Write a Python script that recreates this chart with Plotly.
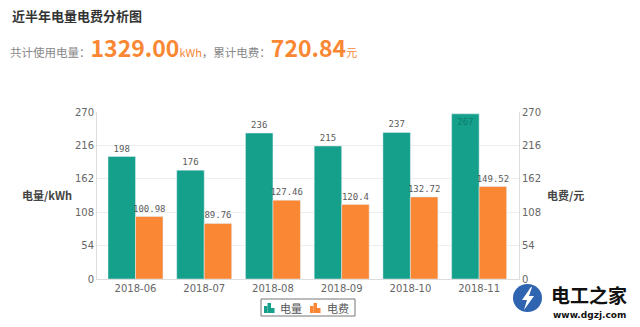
import plotly.graph_objects as go

months = ["2018-06", "2018-07", "2018-08", "2018-09", "2018-10", "2018-11"]
usage_kwh = [198, 176, 236, 215, 237, 267]
cost_yuan = [100.98, 89.76, 127.46, 120.4, 132.72, 149.52]
tick_vals = [0, 54, 108, 162, 216, 270]
series_names = ["电量", "电费"]

TEAL = "#14a08b"
ORANGE = "#f98733"
FONT = "Noto Sans CJK SC"
LABEL_FONT = "DejaVu Sans Mono"

W, H = 640, 327
PL, PR, PT, PB = 97, 519, 112, 279  # plot area in pixels

total_kwh = sum(usage_kwh)
total_cost = sum(cost_yuan)


def px(x):
    return (x - PL) / (PR - PL)


def py(y):
    return (PB - y) / (PB - PT)


# the tallest bar keeps its label inside the top of the bar
usage_pos = ["inside" if v >= 260 else "outside" for v in usage_kwh]

fig = go.Figure()
fig.add_trace(go.Bar(
    x=months, y=usage_kwh, name=series_names[0], marker_color=TEAL,
    offsetgroup="usage",
    text=[str(v) for v in usage_kwh], textposition=usage_pos,
    insidetextanchor="end", constraintext="none",
    insidetextfont=dict(color="#0c7d6c", size=9, family=LABEL_FONT),
    outsidetextfont=dict(color="#5a5a5a", size=9, family=LABEL_FONT),
    cliponaxis=False, yaxis="y",
))
fig.add_trace(go.Bar(
    x=months, y=cost_yuan, name=series_names[1], marker_color=ORANGE,
    offsetgroup="cost",
    text=[f"{v:g}" for v in cost_yuan], textposition="outside",
    constraintext="none",
    outsidetextfont=dict(color="#5a5a5a", size=9, family=LABEL_FONT),
    cliponaxis=False, yaxis="y2",
))

axis_common = dict(
    range=[0, 270], tickvals=tick_vals, showgrid=True, gridcolor="#eeeeee",
    tickfont=dict(color="#666", size=10, family="DejaVu Sans"),
    zeroline=False, showline=True, linecolor="#dddddd", ticks="",
)

fig.update_layout(
    width=W, height=H,
    margin=dict(l=PL, r=W - PR, t=PT, b=H - PB, autoexpand=False),
    paper_bgcolor="white", plot_bgcolor="white",
    barmode="group", bargap=0.2, bargroupgap=0,
    font=dict(family=FONT, color="#666"),
    xaxis=dict(type="category", range=[-0.56, 5.58], showline=True,
               linecolor="#dddddd", ticks="", showgrid=False,
               tickfont=dict(color="#666", size=10, family="DejaVu Sans")),
    yaxis=dict(**axis_common),
    yaxis2=dict(**axis_common, overlaying="y", side="right"),
    showlegend=False,
)

# legend box with small bar-chart icons
fig.add_shape(type="rect", xref="paper", yref="paper",
              x0=px(261), x1=px(355), y0=py(316), y1=py(299),
              line=dict(color="#777", width=1), fillcolor="white")
for (ix, name, color, tx) in [(264, series_names[0], TEAL, 291),
                              (310, series_names[1], ORANGE, 338)]:
    for dx, top in [(0, 306), (3.5, 303), (7, 308)]:
        fig.add_shape(type="rect", xref="paper", yref="paper",
                      x0=px(ix + dx), x1=px(ix + dx + 3.5),
                      y0=py(313), y1=py(top),
                      line=dict(width=0), fillcolor=color)
    fig.add_annotation(text=name, xref="paper", yref="paper",
                       x=px(tx), y=py(307.5), xanchor="center", yanchor="middle",
                       showarrow=False, font=dict(size=11, color="#555", family=FONT))

fig.add_annotation(text="<b>近半年电量电费分析图</b>", xref="paper", yref="paper",
                   x=px(10), y=py(15), xanchor="left", yanchor="middle",
                   showarrow=False, font=dict(size=13, color="#333", family=FONT))
fig.add_annotation(
    text=("<span style='color:#888'>共计使用电量：</span>"
          f"<span style='font-size:23px;color:{ORANGE}'><b>{total_kwh:.2f}</b></span>"
          f"<span style='font-size:11px;color:{ORANGE}'>kWh</span>"
          "<span style='color:#888'>，累计电费：</span>"
          f"<span style='font-size:23px;color:{ORANGE}'><b>{total_cost:.2f}</b></span>"
          f"<span style='font-size:11px;color:{ORANGE}'>元</span>"),
    xref="paper", yref="paper", x=px(8), y=py(47),
    xanchor="left", yanchor="middle", showarrow=False,
    font=dict(size=11.5, color="#888", family=FONT))
fig.add_annotation(text="<b>电量/kWh</b>", xref="paper", yref="paper",
                   x=px(47), y=py(195), xanchor="center", yanchor="middle",
                   showarrow=False, font=dict(size=11, color="#444", family=FONT))
fig.add_annotation(text="<b>电费/元</b>", xref="paper", yref="paper",
                   x=px(565), y=py(195), xanchor="center", yanchor="middle",
                   showarrow=False, font=dict(size=11, color="#444", family=FONT))

# site mark in the lower right corner: blue disc with a lightning bolt
fig.add_shape(type="circle", xref="paper", yref="paper",
              x0=px(513), x1=px(542), y0=py(312), y1=py(284),
              fillcolor="#2f64b0", line=dict(width=0))
bolt = [(531, 287), (522, 300), (527, 300), (524, 310), (534, 296), (529, 296), (532, 287)]
bolt_path = "M " + " L ".join(f"{px(x):.5f},{py(y):.5f}" for x, y in bolt) + " Z"
fig.add_shape(type="path", xref="paper", yref="paper", path=bolt_path,
              fillcolor="white", line=dict(width=0))
fig.add_annotation(text="<b>电工之家</b>", xref="paper", yref="paper",
                   x=px(589), y=py(294), xanchor="center", yanchor="middle",
                   showarrow=False, font=dict(size=19, color="#111", family=FONT))
fig.add_annotation(text="<b>www.dgzj.com</b>", xref="paper", yref="paper",
                   x=px(589), y=py(315), xanchor="center", yanchor="middle",
                   showarrow=False, font=dict(size=9, color="#111", family="DejaVu Sans"))

fig.write_html("out.html")
